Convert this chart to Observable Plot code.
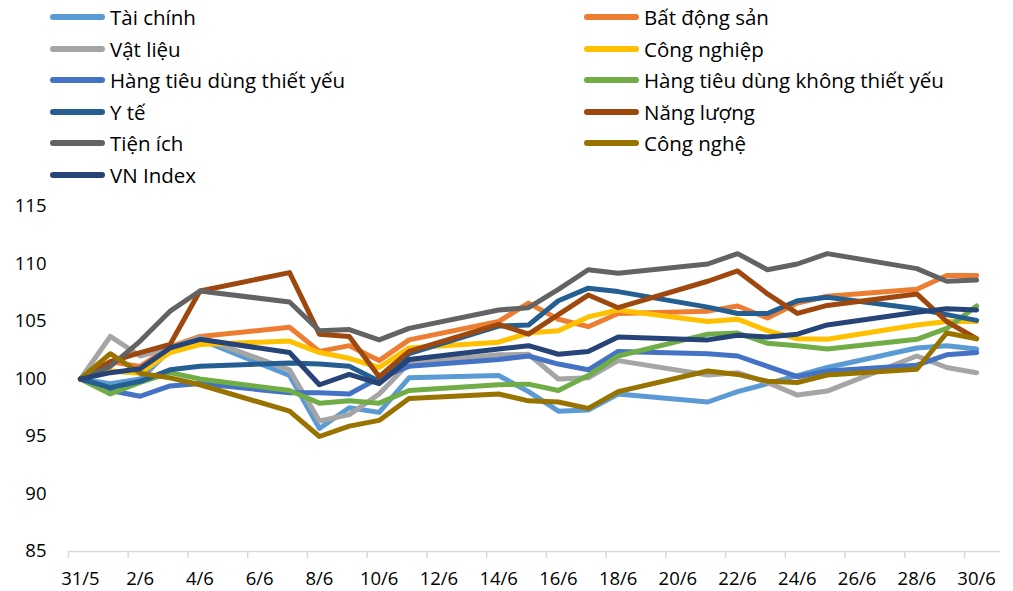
<!DOCTYPE html>
<html><head><meta charset="utf-8">
<script src="https://cdn.jsdelivr.net/npm/d3@7"></script>
<script src="https://cdn.jsdelivr.net/npm/@observablehq/plot@0.6"></script>
<style>
body{margin:0;background:#fff;font-family:"Open Sans",sans-serif;}
#wrap{width:1013px;height:591px;position:relative;overflow:hidden;background:#fff}
#legend{position:relative;height:190px}
.item{position:absolute;display:flex;align-items:center;font-size:20.5px;line-height:24px;height:24px;color:#000;white-space:nowrap}
.sw{width:55px;height:6px;border-radius:3px;margin-right:5px;flex:none}
#chart svg{display:block}
</style></head><body><div id="wrap"><div id="legend"></div><div id="chart"></div></div>
<script>
const dates = ["2021-05-31","2021-06-01","2021-06-02","2021-06-03","2021-06-04","2021-06-07","2021-06-08","2021-06-09","2021-06-10","2021-06-11","2021-06-14","2021-06-15","2021-06-16","2021-06-17","2021-06-18","2021-06-21","2021-06-22","2021-06-23","2021-06-24","2021-06-25","2021-06-28","2021-06-29","2021-06-30"];

const taiChinh = [100, 99.6, 100.0, 102.5, 103.45, 100.3, 95.7, 97.5, 97.1, 100.1, 100.3, 98.9, 97.2, 97.3, 98.7, 98.0, 98.9, 99.6, 100.3, 101.0, 102.7, 102.9, 102.6];
const batDongSan = [100, 101.5, 101.1, 102.8, 103.7, 104.5, 102.4, 102.9, 101.6, 103.4, 105.0, 106.6, 105.2, 104.55, 105.7, 105.9, 106.35, 105.3, 106.6, 107.2, 107.8, 109.0, 109.0];
const vatLieu = [100, 103.7, 102.0, 102.7, 103.6, 100.8, 96.35, 96.9, 98.7, 101.4, 102.1, 102.15, 100.0, 100.1, 101.6, 100.35, 100.55, 99.7, 98.6, 98.95, 102.0, 101.0, 100.55];
const congNghiep = [100, 100.7, 100.5, 102.3, 103.0, 103.3, 102.3, 101.8, 101.0, 102.7, 103.2, 104.0, 104.2, 105.4, 106.0, 105.0, 105.2, 104.2, 103.5, 103.45, 104.7, 105.0, 105.0];
const htdThietYeu = [100, 99.0, 98.5, 99.4, 99.6, 98.8, 98.8, 98.7, 100.1, 101.1, 101.7, 102.0, 101.3, 100.8, 102.4, 102.2, 102.0, 101.1, 100.2, 100.7, 101.2, 102.1, 102.3];
const htdKhongThietYeu = [100, 98.7, 99.7, 100.55, 100.0, 99.0, 97.9, 98.1, 97.9, 99.0, 99.5, 99.55, 99.0, 100.3, 102.0, 103.9, 104.0, 103.1, 102.9, 102.6, 103.45, 104.4, 106.35];
const yTe = [100, 99.25, 99.8, 100.8, 101.1, 101.4, 101.3, 101.1, 99.8, 102.2, 104.6, 104.7, 106.8, 107.9, 107.6, 106.25, 105.7, 105.7, 106.8, 107.1, 106.1, 105.6, 105.1];
const nangLuong = [100, 101.5, 102.3, 103.0, 107.65, 109.25, 103.9, 103.7, 100.2, 102.4, 104.75, 103.9, 105.6, 107.3, 106.2, 108.5, 109.4, 107.4, 105.7, 106.4, 107.4, 105.0, 103.5];
const tienIch = [100, 101.1, 103.3, 105.9, 107.65, 106.7, 104.2, 104.3, 103.4, 104.4, 106.0, 106.2, 107.8, 109.5, 109.2, 110.0, 110.9, 109.5, 110.0, 110.9, 109.6, 108.5, 108.6];
const congNghe = [100, 102.2, 100.5, 100.1, 99.5, 97.2, 95.0, 95.9, 96.4, 98.3, 98.7, 98.1, 98.0, 97.45, 98.9, 100.7, 100.4, 99.8, 99.7, 100.35, 100.85, 104.0, 103.5];
const vnIndex = [100, 100.55, 100.9, 102.7, 103.45, 102.3, 99.5, 100.4, 99.6, 101.7, 102.6, 102.9, 102.15, 102.4, 103.65, 103.4, 103.8, 103.65, 103.9, 104.7, 105.8, 106.1, 106.0];

const seriesNames = ["Tài chính","Bất động sản","Vật liệu","Công nghiệp","Hàng tiêu dùng thiết yếu","Hàng tiêu dùng không thiết yếu","Y tế","Năng lượng","Tiện ích","Công nghệ","VN Index"];
const seriesValues = [taiChinh, batDongSan, vatLieu, congNghiep, htdThietYeu, htdKhongThietYeu, yTe, nangLuong, tienIch, congNghe, vnIndex];
const seriesColors = ["#5B9BD5","#ED7D31","#A5A5A5","#FFC000","#4472C4","#70AD47","#255E91","#9E480E","#636363","#997300","#264478"];

const tickLabels = ["31/5","2/6","4/6","6/6","8/6","10/6","12/6","14/6","16/6","18/6","20/6","22/6","24/6","26/6","28/6","30/6"];
const tickDatesStr = ["2021-05-31","2021-06-02","2021-06-04","2021-06-06","2021-06-08","2021-06-10","2021-06-12","2021-06-14","2021-06-16","2021-06-18","2021-06-20","2021-06-22","2021-06-24","2021-06-26","2021-06-28","2021-06-30"];
const yTicks = [85, 90, 95, 100, 105, 110, 115];

const parse = d3.utcParse("%Y-%m-%d");
const DAY = 864e5;
const tickDates = tickDatesStr.map(parse);
const labelMap = new Map(tickDates.map((d, i) => [+d, tickLabels[i]]));

const rows = seriesNames.flatMap((name, s) => dates.map((d, i) => ({date: parse(d), value: seriesValues[s][i], name})));
const x0 = parse(dates[0]), x1 = parse(dates[dates.length - 1]);

// Legend (HTML, above the SVG)
const legend = document.getElementById("legend");
seriesNames.forEach((name, i) => {
  const col = i % 2, row = Math.floor(i / 2);
  const el = document.createElement("div");
  el.className = "item";
  el.style.left = (col === 0 ? 50 : 584) + "px";
  el.style.top = (17 + row * 31.6 - 12) + "px";
  el.innerHTML = `<span class="sw" style="background:${seriesColors[i]}"></span><span>${name}</span>`;
  legend.appendChild(el);
});

const chart = Plot.plot({
  width: 1013, height: 401,
  marginLeft: 68, marginRight: 13, marginTop: 16, marginBottom: 40,
  x: {type: "utc", domain: [new Date(+x0 - 0.4 * DAY), new Date(+x1 + 0.8 * DAY)]},
  y: {domain: [85, 115]},
  style: {fontFamily: "'Open Sans', sans-serif", fontSize: "18.5px", color: "#000", background: "white"},
  marks: [
    Plot.ruleY([85], {stroke: "#d9d9d9", strokeWidth: 1.5}),
    Plot.axisY({ticks: yTicks, tickSize: 0, tickPadding: 22, label: null, tickFormat: d => String(d)}),
    Plot.axisX({ticks: tickDates, tickSize: 7, tickFormat: () => "", dx: -12, stroke: "#d9d9d9", strokeWidth: 1.5, label: null}),
    Plot.axisX({ticks: tickDates, tickSize: 0, tickPadding: 20, tickFormat: d => labelMap.get(+d), label: null}),
    ...seriesNames.map((name, s) => Plot.line(rows.filter(r => r.name === name), {
      x: "date", y: "value", stroke: seriesColors[s], strokeWidth: 5,
      strokeLinejoin: "round", strokeLinecap: "round"
    }))
  ]
});
document.getElementById("chart").appendChild(chart);
</script>
</body></html>
